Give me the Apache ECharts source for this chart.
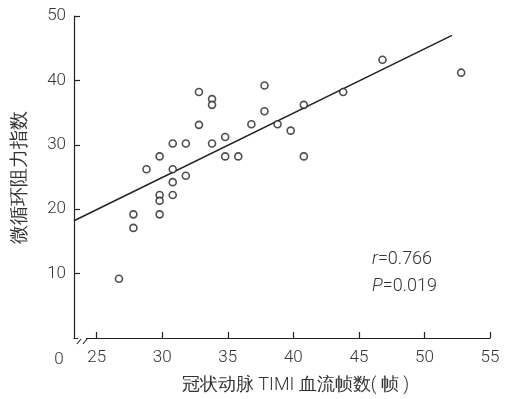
<!DOCTYPE html>
<html><head><meta charset="utf-8">
<script src="https://cdn.jsdelivr.net/npm/echarts@6/dist/echarts.min.js"></script>
<style>html,body{margin:0;padding:0;background:#fff}#c{width:505px;height:399px}</style>
</head><body><div id="c"></div>
<script>
var frameCounts = [26.7, 27.8, 27.8, 28.8, 29.8, 29.8, 29.8, 29.8, 30.8, 30.8, 30.8, 30.8, 31.8, 31.8, 32.8, 32.8, 33.8, 33.8, 33.8, 34.8, 34.8, 35.8, 36.8, 37.8, 37.8, 38.8, 39.8, 40.8, 40.8, 43.8, 46.8, 52.8];
var resistance = [9.2, 19.2, 17.1, 26.2, 28.2, 22.2, 21.3, 19.2, 30.2, 26.2, 24.2, 22.2, 30.2, 25.2, 38.2, 33.1, 37.1, 36.2, 30.2, 31.2, 28.2, 28.2, 33.2, 39.2, 35.2, 33.2, 32.2, 36.2, 28.2, 38.2, 43.2, 41.2];
var fitX = [23.27, 52.1];
var fitY = [18.2, 47.0];
var xTicks = [25, 30, 35, 40, 45, 50, 55];
var yTicks = [10, 20, 30, 40, 50];
var statR = '0.766';
var statP = '0.019';

var pts = frameCounts.map(function (x, i) { return [x, resistance[i]]; });
var fit = fitX.map(function (x, i) { return [x, fitY[i]]; });
var FONT = 'Roboto';
var TXT = '#333';

var chart = echarts.init(document.getElementById('c'));
chart.setOption({
  animation: false,
  backgroundColor: '#fff',
  grid: { left: 74, right: 15, top: 16, bottom: 57, containLabel: false },
  xAxis: {
    type: 'value', min: 23.27, max: 55,
    name: '冠状动脉 TIMI 血流帧数( 帧 )', nameLocation: 'middle', nameGap: 38,
    nameTextStyle: { fontFamily: FONT, fontSize: 18, fontWeight: 300, color: TXT, padding: [0, 0, 0, 27] },
    axisLine: { show: true, lineStyle: { color: '#222', width: 1.2 } },
    axisTick: { show: true, inside: true, length: 6, customValues: xTicks, lineStyle: { color: '#222', width: 1.2 } },
    axisLabel: { customValues: xTicks, margin: 11, fontFamily: FONT, fontSize: 17, color: TXT, fontWeight: 300 },
    splitLine: { show: false }
  },
  yAxis: {
    type: 'value', min: 0, max: 50, interval: 10,
    name: '微循环阻力指数', nameLocation: 'middle', nameGap: 44, nameRotate: 90,
    nameTextStyle: { fontFamily: FONT, fontSize: 19, fontWeight: 300, color: TXT },
    axisLine: { show: true, lineStyle: { color: '#222', width: 1.2 } },
    axisTick: { show: true, inside: true, length: 6, customValues: yTicks, lineStyle: { color: '#222', width: 1.2 } },
    axisLabel: { customValues: yTicks, margin: 8, fontFamily: FONT, fontSize: 17, color: TXT, fontWeight: 300 },
    splitLine: { show: false }
  },
  series: [
    {
      type: 'line', data: fit, showSymbol: false, symbol: 'none',
      lineStyle: { color: '#222', width: 1.5 }, z: 2
    },
    {
      type: 'scatter', data: pts, symbol: 'circle', symbolSize: 7,
      itemStyle: { color: '#fff', borderColor: '#222', borderWidth: 1.6 }, z: 3
    }
  ],
  graphic: [
    { type: 'rect', shape: { x: 78, y: 338, width: 8, height: 8 }, style: { fill: '#fff' }, z: 100 },
    { type: 'line', shape: { x1: 77, y1: 344, x2: 81, y2: 339 }, style: { stroke: '#222', lineWidth: 1.1 }, z: 101 },
    { type: 'line', shape: { x1: 83, y1: 344, x2: 87, y2: 339 }, style: { stroke: '#222', lineWidth: 1.1 }, z: 101 },
    { type: 'text', x: 59, y: 360, style: { text: '0', fontFamily: FONT, fontSize: 17, fontWeight: 300, fill: TXT, align: 'center', verticalAlign: 'middle' }, z: 101 },
    { type: 'text', x: 372, y: 259, style: {
        text: '{i|r}=' + statR, fontFamily: FONT, fontSize: 18, fontWeight: 300, fill: TXT, verticalAlign: 'middle',
        rich: { i: { fontStyle: 'italic', fontFamily: FONT, fontSize: 18, fontWeight: 300, fill: TXT } } }, z: 101 },
    { type: 'text', x: 372, y: 286, style: {
        text: '{i|P}=' + statP, fontFamily: FONT, fontSize: 18, fontWeight: 300, fill: TXT, verticalAlign: 'middle',
        rich: { i: { fontStyle: 'italic', fontFamily: FONT, fontSize: 18, fontWeight: 300, fill: TXT } } }, z: 101 }
  ]
});
</script></body></html>
